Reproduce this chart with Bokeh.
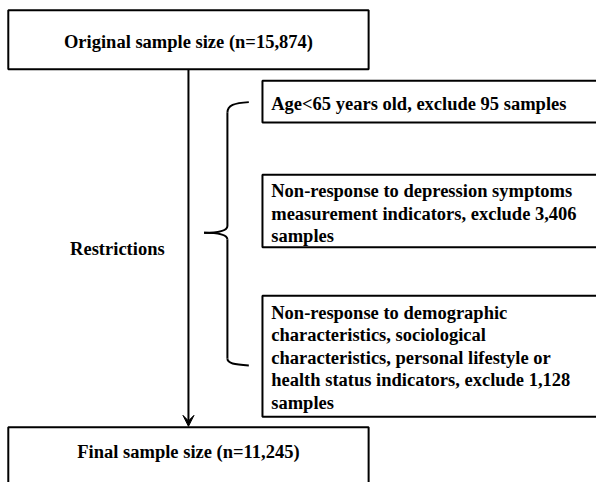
from bokeh.plotting import figure
from bokeh.models import Range1d, Arrow, VeeHead
from bokeh.core.properties import value
from bokeh.embed import file_html
from bokeh.resources import INLINE

# ---- content ----
main_labels = ["Original sample size (n=15,874)", "Final sample size (n=11,245)"]
side_label = "Restrictions"
exclusion_lines = [
    ["Age<65 years old, exclude 95 samples"],
    ["Non-response to depression symptoms",
     "measurement  indicators, exclude 3,406",
     "samples"],
    ["Non-response to demographic",
     "characteristics,  sociological",
     "characteristics,  personal lifestyle or",
     "health status indicators, exclude 1,128",
     "samples"],
]

FONT = value("Liberation Serif")
FS = "18.5px"
LW = 2

p = figure(width=596, height=482, output_backend="svg", toolbar_location=None,
           x_range=Range1d(0, 612), y_range=Range1d(498, 0),
           min_border=0, outline_line_color=None)
p.axis.visible = False
p.grid.visible = False

# main boxes
main_boxes = [(8, 378, 10, 71), (8, 378, 441, 530)]
p.quad(left=[b[0] for b in main_boxes], right=[b[1] for b in main_boxes],
       top=[b[2] for b in main_boxes], bottom=[b[3] for b in main_boxes],
       fill_color="white", line_color="black", line_width=LW)
p.text(x=[193, 193], y=[43, 467], text=main_labels, text_font=FONT,
       text_font_style="bold", text_font_size=FS, text_align="center",
       text_baseline="middle", text_color="black")

# exclusion boxes
ex_boxes = [(269, 650, 83, 126), (269, 650, 180, 255), (269, 650, 305, 430)]
p.quad(left=[b[0] for b in ex_boxes], right=[b[1] for b in ex_boxes],
       top=[b[2] for b in ex_boxes], bottom=[b[3] for b in ex_boxes],
       fill_color="white", line_color="black", line_width=LW)
first_y = [107, 197, 323]
xs, ys, ts = [], [], []
for lines, y0 in zip(exclusion_lines, first_y):
    for i, t in enumerate(lines):
        xs.append(278)
        ys.append(y0 + i * 23.1)
        ts.append(t)
p.text(x=xs, y=ys, text=ts, text_font=FONT, text_font_style="bold",
       text_font_size=FS, text_align="left", text_baseline="middle",
       text_color="black")

# side label
p.text(x=[120], y=[257], text=[side_label], text_font=FONT, text_font_style="bold",
       text_font_size=FS, text_align="center", text_baseline="middle",
       text_color="black")

# arrow
p.add_layout(Arrow(end=VeeHead(size=11, fill_color="black", line_color="black", line_width=1),
                   x_start=193, y_start=71, x_end=193, y_end=440,
                   line_color="black", line_width=LW))

# brace
p.bezier(x0=[255, 233, 233, 233], y0=[105, 370, 233, 247],
         x1=[233, 255, 209, 209], y1=[116, 377, 240, 240],
         cx0=[240, 233, 233, 233], cy0=[106, 375, 238, 242],
         cx1=[233, 240, 225, 225], cy1=[108, 376, 240, 240],
         line_color="black", line_width=LW)
p.segment(x0=[233, 233], y0=[116, 247], x1=[233, 233], y1=[233, 370],
          line_color="black", line_width=LW)

open("out.html", "w").write(file_html(p, INLINE))
